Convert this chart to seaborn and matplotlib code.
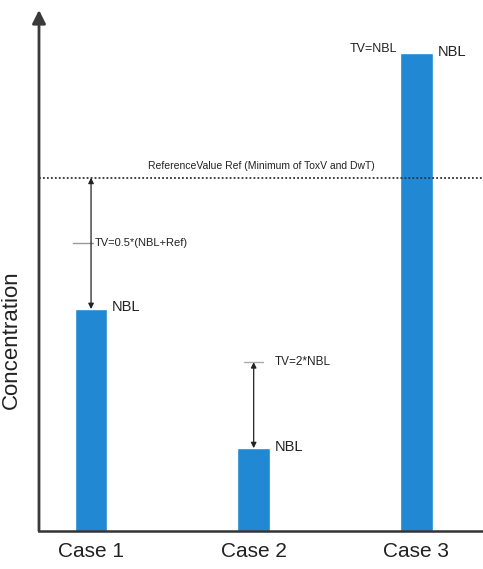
import matplotlib
matplotlib.use("Agg")
import pandas as pd
import matplotlib.pyplot as plt
import seaborn as sns

# values (y axis 0..100, arbitrary units)
cases = ["Case 1", "Case 2", "Case 3"]
nbl = [42.6, 15.9, 91.7]
ref_value = 67.8
tv_values = [55.2, 32.4, 91.7]
tv_labels = ["TV=0.5*(NBL+Ref)", "TV=2*NBL", "TV=NBL"]
ref_label = "ReferenceValue Ref (Minimum of ToxV and DwT)"

df = pd.DataFrame({"Case": cases, "NBL": nbl})

sns.set_style("white")
fam = ["Liberation Sans Narrow", "Liberation Sans", "DejaVu Sans"]
plt.rcParams["font.family"] = fam

fig = plt.figure(figsize=(4.83, 5.69), dpi=100)
ax = fig.add_axes([39 / 483, 38 / 569, 444 / 483, 521 / 569])

sns.barplot(data=df, x="Case", y="NBL", color="#2188d3", width=0.2,
            saturation=1, ax=ax)

ax.set_xlim(-0.32, 2.41)
ax.set_ylim(0, 100)

# axes look: arrow on y axis, plain x axis
for s in ["top", "right", "left"]:
    ax.spines[s].set_visible(False)
ax.spines["bottom"].set_color("#333333")
ax.spines["bottom"].set_linewidth(1.8)
ax.annotate("", xy=(0, 1.0), xytext=(0, 0), xycoords="axes fraction",
            textcoords="axes fraction",
            arrowprops=dict(arrowstyle="-|>", color="#3a3a3a", lw=2,
                            mutation_scale=20, shrinkA=0, shrinkB=0),
            annotation_clip=False)

ax.set_yticks([])
ax.tick_params(axis="x", length=0, pad=8)
for lbl in ax.get_xticklabels():
    lbl.set_fontsize(15)
    lbl.set_color("#222222")
ax.set_xlabel("")
ax.set_ylabel("Concentration", fontsize=16, color="#222222")
ax.yaxis.set_label_coords(-0.038, 0.367)

# reference line
ax.axhline(ref_value, color="#333333", lw=1.3, ls=(0, (1, 1.2)))
ax.text(1.05, ref_value + 1.3, ref_label, fontsize=7.5, ha="center",
        va="bottom", color="#222222")

# NBL labels
offs = [0.13, 0.13, 0.13]
for i, v in enumerate(nbl):
    ax.text(i + offs[i], v + 0.3, "NBL", fontsize=10.5, ha="left",
            va="center", color="#222222")

# Case 1: double arrow from NBL to Ref, TV tick halfway
ax.annotate("", xy=(0, ref_value), xytext=(0, nbl[0]),
            arrowprops=dict(arrowstyle="<|-|>", color="#222222", lw=0.9,
                            mutation_scale=8, shrinkA=0, shrinkB=0))
ax.plot([-0.11, 0.01], [tv_values[0], tv_values[0]], color="#999999", lw=1)
ax.text(0.02, tv_values[0], tv_labels[0], fontsize=8, ha="left",
        va="center", color="#222222")

# Case 2: double arrow from NBL to TV
ax.annotate("", xy=(1, tv_values[1]), xytext=(1, nbl[1]),
            arrowprops=dict(arrowstyle="<|-|>", color="#222222", lw=0.9,
                            mutation_scale=8, shrinkA=0, shrinkB=0))
ax.plot([0.94, 1.06], [tv_values[1], tv_values[1]], color="#aaaaaa", lw=1)
ax.text(1.13, tv_values[1], tv_labels[1], fontsize=8.5, ha="left",
        va="center", color="#222222")

# Case 3: TV equals NBL
ax.text(1.88, tv_values[2] + 0.9, tv_labels[2], fontsize=9, ha="right",
        va="center", color="#222222")

fig.savefig("out.png", dpi=100)
